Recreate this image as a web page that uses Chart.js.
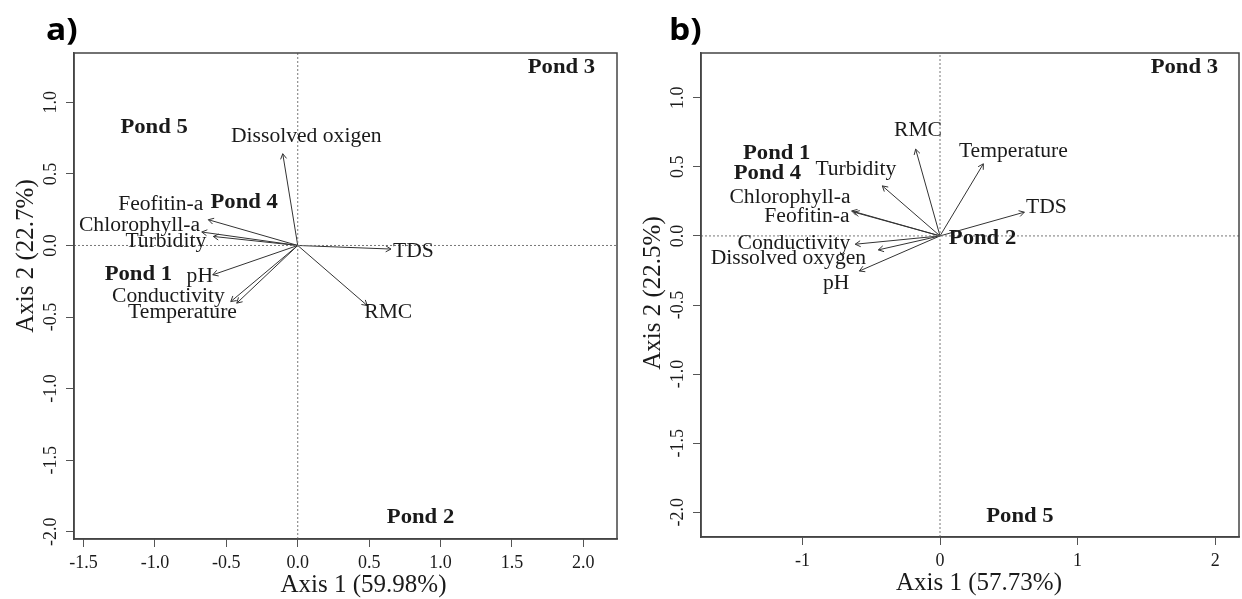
<!DOCTYPE html>
<html>
<head>
<meta charset="utf-8">
<script src="https://cdn.jsdelivr.net/npm/chart.js@4.4.1/dist/chart.umd.min.js"></script>
<style>
  html, body { margin: 0; padding: 0; background: #fff; }
  .panel { position: absolute; top: 0; width: 621px; height: 599px; }
</style>
</head>
<body>
<div class="panel" style="left:0"><canvas id="pcaA"></canvas></div>
<div class="panel" style="left:621px"><canvas id="pcaB"></canvas></div>
<script>
// ---- panel a) ----
const varsA  = ["Dissolved oxigen", "Feofitin-a", "Chlorophyll-a", "Turbidity", "pH", "Conductivity", "Temperature", "TDS", "RMC"];
const tipXA  = [-0.105, -0.626, -0.672, -0.591, -0.595, -0.469, -0.427, 0.653, 0.487];
const tipYA  = [ 0.641,  0.180,  0.094,  0.063, -0.205, -0.392, -0.403, -0.025, -0.420];
const labXA  = [ 0.060, -0.959, -1.108, -0.924, -0.686, -0.906, -0.807, 0.810, 0.634];
const labYA  = [ 0.758,  0.285,  0.138,  0.028, -0.217, -0.357, -0.473, -0.042, -0.473];
const pondsA = ["Pond 1", "Pond 2", "Pond 3", "Pond 4", "Pond 5"];
const pondXA = [-1.116, 0.860, 1.847, -0.375, -1.006];
const pondYA = [-0.205, -1.899, 1.241, 0.297, 0.821];
const rangeXA = [-1.567, 2.236];
const rangeYA = [-2.051, 1.345];

// ---- panel b) ----
const varsB  = ["RMC", "Turbidity", "Chlorophyll-a", "Feofitin-a", "Conductivity", "Dissolved oxygen", "pH", "Temperature", "TDS"];
const tipXB  = [-0.177, -0.419, -0.642, -0.625, -0.616, -0.448, -0.586, 0.315, 0.613];
const tipYB  = [ 0.628,  0.362,  0.181,  0.172, -0.060, -0.101, -0.254, 0.522, 0.172];
const labXB  = [-0.160, -0.612, -1.090, -0.967, -1.061, -1.102, -0.754, 0.533, 0.773];
const labYB  = [ 0.763,  0.478,  0.273,  0.136, -0.053, -0.162, -0.343, 0.611, 0.201];
const pondsB = ["Pond 1", "Pond 2", "Pond 3", "Pond 4", "Pond 5"];
const pondXB = [-1.187, 0.309, 1.776, -1.254, 0.581];
const pondYB = [ 0.599, -0.017, 1.215, 0.454, -2.029];
const rangeXB = [-1.737, 2.173];
const rangeYB = [-2.179, 1.324];

const SERIF = "'Liberation Serif', 'Times New Roman', serif";
const INK = "#1a1a1a";

// text centred at (x, y), optionally rotated and stretched horizontally
function drawText(ctx, s, x, y, font, sx, rot) {
  ctx.save();
  ctx.translate(x, y);
  if (rot) ctx.rotate(rot);
  ctx.scale(sx || 1, 1);
  ctx.font = font;
  ctx.fillStyle = INK;
  ctx.textAlign = "center";
  ctx.textBaseline = "middle";
  ctx.fillText(s, 0, 0);
  ctx.restore();
}

// one plugin per panel, it keeps the panel's settings in a closure
function biplotPlugin(p) {
  return {
    id: "biplot",
    afterDatasetsDraw(chart) {
      const { ctx, chartArea: ca, scales: { x, y } } = chart;

      // arrow heads
      chart.data.datasets.forEach((ds, i) => {
        if (!ds.arrow) return;
        const pts = chart.getDatasetMeta(i).data;
        const x0 = pts[0].x, y0 = pts[0].y, x1 = pts[1].x, y1 = pts[1].y;
        const a = Math.atan2(y1 - y0, x1 - x0);
        const L = 6, h = Math.PI / 6;
        ctx.save();
        ctx.strokeStyle = "#333";
        ctx.lineWidth = 1;
        ctx.beginPath();
        ctx.moveTo(x1 - L * Math.cos(a - h), y1 - L * Math.sin(a - h));
        ctx.lineTo(x1, y1);
        ctx.lineTo(x1 - L * Math.cos(a + h), y1 - L * Math.sin(a + h));
        ctx.stroke();
        ctx.restore();
      });

      // variable labels and pond labels
      p.vars.forEach((v, i) => {
        drawText(ctx, v, x.getPixelForValue(p.labX[i]), y.getPixelForValue(p.labY[i]), "20px " + SERIF, 1.08);
      });
      p.ponds.forEach((s, i) => {
        drawText(ctx, s, x.getPixelForValue(p.pondX[i]), y.getPixelForValue(p.pondY[i]), "bold 21px " + SERIF, 1.08);
      });

      // box
      ctx.save();
      ctx.strokeStyle = "#444";
      ctx.lineWidth = 1.5;
      ctx.strokeRect(ca.left, ca.top, ca.right - ca.left, ca.bottom - ca.top);
      ctx.restore();

      // tick labels (R style: y labels parallel to the axis)
      x.ticks.forEach((t) => {
        drawText(ctx, p.fmtX(t.value), x.getPixelForValue(t.value), ca.bottom + 24, "18px " + SERIF, 1);
      });
      y.ticks.forEach((t) => {
        drawText(ctx, t.value.toFixed(1), ca.left - 23, y.getPixelForValue(t.value), "18px " + SERIF, 1, -Math.PI / 2);
      });

      // axis titles
      drawText(ctx, p.titleX, (ca.left + ca.right) / 2 + p.shiftX, ca.bottom + 46, "25px " + SERIF, 1);
      drawText(ctx, p.titleY, ca.left - 48, (ca.top + ca.bottom) / 2 + p.shiftY, "25px " + SERIF, 1, -Math.PI / 2);

      // panel letter
      ctx.save();
      ctx.translate(p.letterX, 40);
      ctx.scale(1.12, 1);
      ctx.font = "bold 30px 'Open Sans', 'Liberation Sans', sans-serif";
      ctx.fillStyle = "#000";
      ctx.textAlign = "left";
      ctx.textBaseline = "alphabetic";
      ctx.fillText(p.letter, 0, 0);
      ctx.restore();
    },
  };
}

function makeBiplot(id, p) {
  const datasets = [
    { data: [{ x: 0, y: p.rangeY[0] }, { x: 0, y: p.rangeY[1] }] },
    { data: [{ x: p.rangeX[0], y: 0 }, { x: p.rangeX[1], y: 0 }] },
  ].map((d) => Object.assign(d, {
    showLine: true, pointRadius: 0, borderColor: "#777", borderWidth: 1, borderDash: [2, 2],
  }));

  p.tipX.forEach((tx, i) => {
    datasets.push({
      arrow: true,
      data: [{ x: 0, y: 0 }, { x: tx, y: p.tipY[i] }],
      showLine: true, pointRadius: 0, borderColor: "#333", borderWidth: 1,
    });
  });

  const axisCommon = {
    type: "linear",
    grid: { display: true, drawOnChartArea: false, drawTicks: true, tickLength: 8, tickColor: "#555", lineWidth: 1 },
    border: { display: true, color: "#444", width: 1.5 },
  };

  return new Chart(document.getElementById(id), {
    type: "scatter",
    data: { datasets },
    options: {
      responsive: true,
      maintainAspectRatio: false,
      animation: false,
      events: [],
      layout: { padding: { top: 53, right: p.padRight, left: 0, bottom: 0 } },
      scales: {
        x: Object.assign({}, axisCommon, {
          min: p.rangeX[0], max: p.rangeX[1],
          afterFit: (s) => { s.height = p.axisH; },
          ticks: { stepSize: p.stepX, includeBounds: false, autoSkip: false, color: "rgba(0,0,0,0)", font: { size: 18 } },
        }),
        y: Object.assign({}, axisCommon, {
          min: p.rangeY[0], max: p.rangeY[1],
          afterFit: (s) => { s.width = p.axisW; },
          ticks: { stepSize: 0.5, includeBounds: false, autoSkip: false, color: "rgba(0,0,0,0)", font: { size: 18 } },
        }),
      },
      plugins: {
        legend: { display: false },
        tooltip: { enabled: false },
      },
    },
    plugins: [biplotPlugin(p)],
  });
}

makeBiplot("pcaA", {
  vars: varsA, tipX: tipXA, tipY: tipYA, labX: labXA, labY: labYA,
  ponds: pondsA, pondX: pondXA, pondY: pondYA,
  rangeX: rangeXA, rangeY: rangeYA, stepX: 0.5, fmtX: (v) => v.toFixed(1),
  titleX: "Axis 1 (59.98%)", titleY: "Axis 2 (22.7%)",
  shiftX: 18, shiftY: -40, letter: "a)", letterX: 46,
  axisW: 74, axisH: 60, padRight: 4,
});

makeBiplot("pcaB", {
  vars: varsB, tipX: tipXB, tipY: tipYB, labX: labXB, labY: labYB,
  ponds: pondsB, pondX: pondXB, pondY: pondYB,
  rangeX: rangeXB, rangeY: rangeYB, stepX: 1, fmtX: (v) => v.toFixed(0),
  titleX: "Axis 1 (57.73%)", titleY: "Axis 2 (22.5%)",
  shiftX: 9, shiftY: -2, letter: "b)", letterX: 48,
  axisW: 80, axisH: 62, padRight: 3,
});
</script>
</body>
</html>
